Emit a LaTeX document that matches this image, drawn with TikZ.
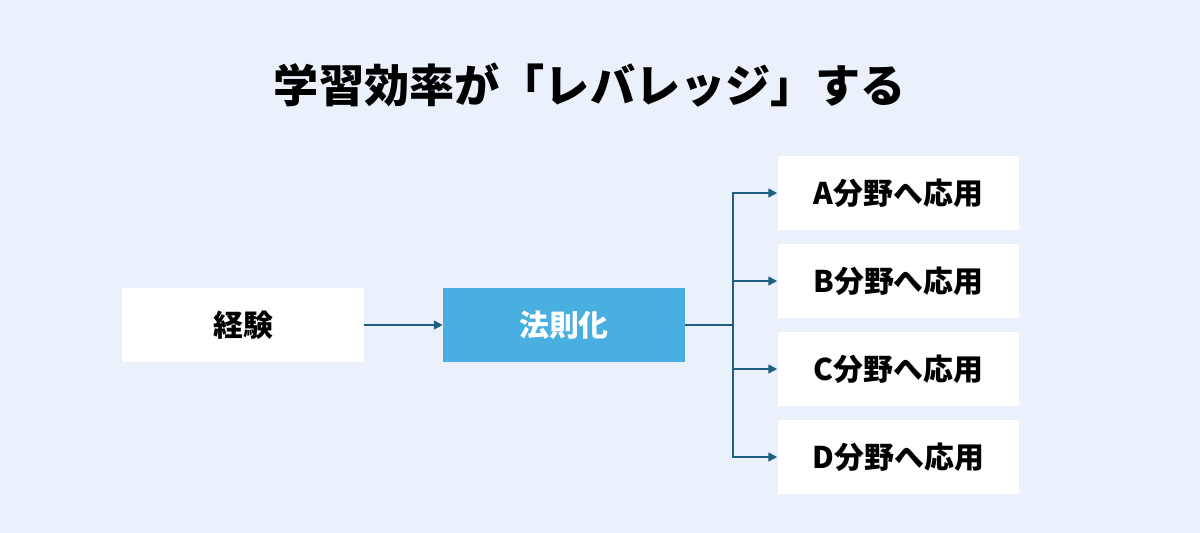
\documentclass[tikz,border=0pt]{standalone}
\usepackage{fontspec}
\setmainfont{Noto Sans CJK JP}
\usetikzlibrary{positioning,arrows.meta}
\definecolor{bgblue}{HTML}{EAF1FA}
\definecolor{boxblue}{HTML}{48AFE0}
\definecolor{linkblue}{HTML}{1E5F82}
\tikzset{
	box/.style={fill=white,minimum width=4.84cm,minimum height=1.48cm,inner sep=0pt,font=\fontsize{17}{20}\selectfont\bfseries},
	keybox/.style={box,fill=boxblue,text=white},
	link/.style={draw=linkblue,line width=0.9pt,-{Triangle[length=5pt,width=5pt]}}
}
\begin{document}
\begin{tikzpicture}[x=0.02cm,y=-0.02cm]
		\useasboundingbox (0,0) rectangle (1200,532);
		\fill[bgblue] (-5,-5) rectangle (1205,537);
		\node[font=\fontsize{25.7}{30}\selectfont\bfseries] (title) at (590,85) {学習効率が「レバレッジ」する};
		\node[box] (exp) at (243,325) {経験};
		\node[keybox] (rule) at (564,325) {法則化};
		\node[box] (appA) at (898.5,193) {A分野へ応用};
		\node[box] (appB) at (898.5,281) {B分野へ応用};
		\node[box] (appC) at (898.5,369) {C分野へ応用};
		\node[box] (appD) at (898.5,457) {D分野へ応用};
		\coordinate (split) at (733,325);
		\draw[link] (exp) -- (rule);
		\draw[linkblue,line width=0.9pt] (rule.east) -- (split);
		\draw[link] (split) |- (appA.west);
		\draw[link] (split) |- (appB.west);
		\draw[link] (split) |- (appC.west);
		\draw[link] (split) |- (appD.west);
	\end{tikzpicture}
\end{document}
